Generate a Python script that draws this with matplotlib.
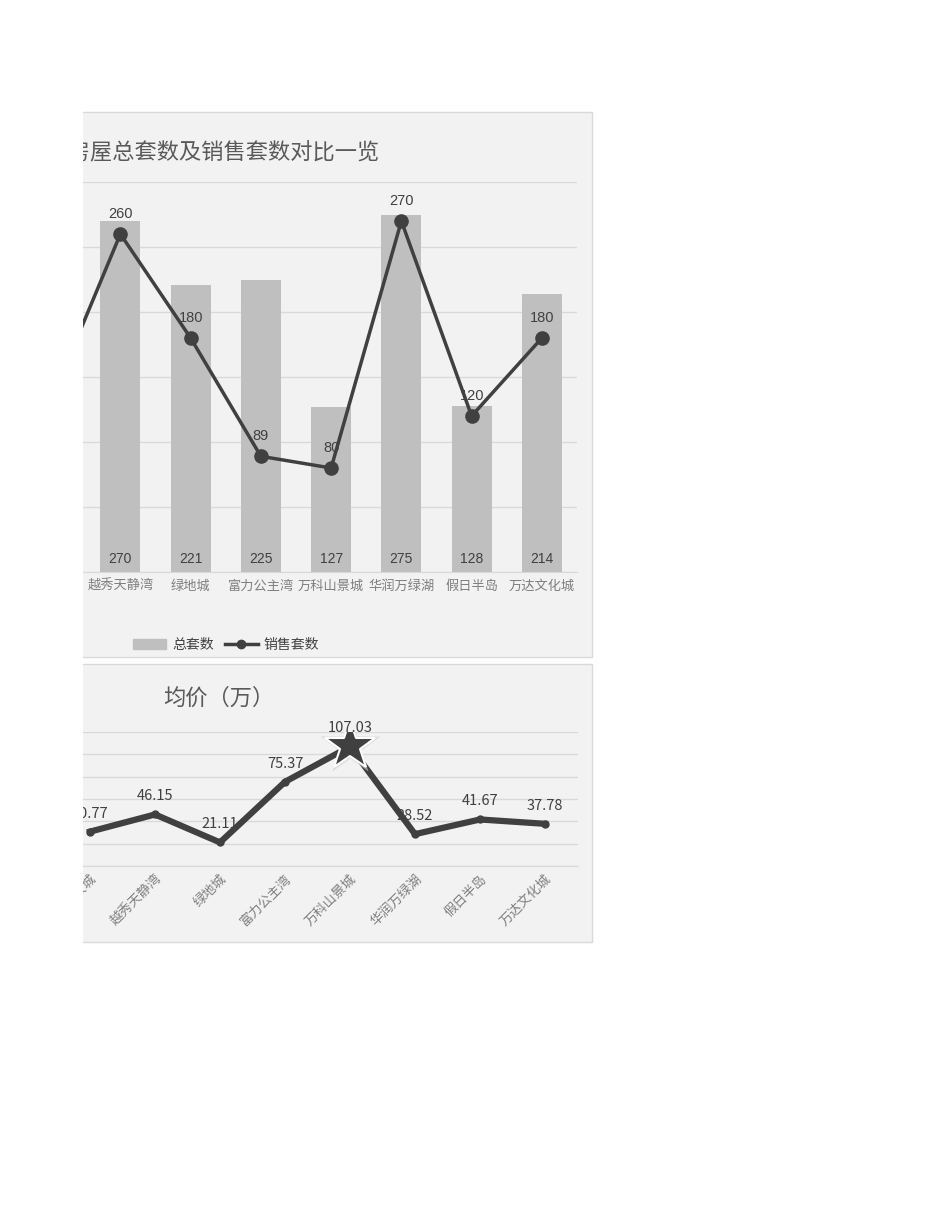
import matplotlib.pyplot as plt
from matplotlib.patches import Rectangle, Patch
from matplotlib.lines import Line2D

plt.rcParams['font.family'] = ['Noto Sans CJK SC', 'DejaVu Sans']

# data (first project is cut off on the left)
projects = ['恒大城', '越秀天静湾', '绿地城', '富力公主湾', '万科山景城', '华润万绿湖', '假日半岛', '万达文化城']
total_units = [250, 270, 221, 225, 127, 275, 128, 214]
sold_units = [130, 260, 180, 89, 80, 270, 120, 180]
avg_price = [30.77, 46.15, 21.11, 75.37, 107.03, 28.52, 41.67, 37.78]

W, H = 950, 1230
bar_col = '#bfbfbf'
line_col = '#404040'
grid_col = '#d9d9d9'
lab_col = '#7f7f7f'


def box(x0, y0, x1, y1):
    # pixel box (top-left origin) -> figure fractions
    return [x0 / W, 1 - y1 / H, (x1 - x0) / W, (y1 - y0) / H]


fig = plt.figure(figsize=(9.5, 12.3), dpi=100)

# panel backgrounds
for y0, y1 in [(112, 657), (664, 942)]:
    fig.patches.append(Rectangle((60 / W, 1 - y1 / H), (592 - 60) / W, (y1 - y0) / H,
                                 transform=fig.transFigure, facecolor='#f2f2f2',
                                 edgecolor=grid_col, lw=1, zorder=-5))

# ---- top chart: total vs sold
ax = fig.add_axes(box(15, 182, 577, 572))
ax.set_facecolor('none')
x = range(len(projects))
ax.bar(x, total_units, width=0.57, color=bar_col, zorder=2)
ax.plot(x, sold_units, color=line_col, lw=2.5, marker='o', ms=9.5, zorder=3)
for i in x:
    ax.annotate(str(total_units[i]), (i, 0), xytext=(0, 9.5), textcoords='offset points',
                ha='center', va='center', fontsize=10, color=line_col,
                family=['Liberation Sans', 'DejaVu Sans'])
    ax.annotate(str(sold_units[i]), (i, sold_units[i]), xytext=(0, 14.5),
                textcoords='offset points', ha='center', va='center', fontsize=10.5,
                color=line_col, family=['Liberation Sans', 'DejaVu Sans'], zorder=4)
ax.set_xlim(-0.5, len(projects) - 0.5)
ax.set_ylim(0, 300)
ax.set_yticks(range(0, 301, 50))
ax.yaxis.grid(True, color=grid_col, lw=1, zorder=0)
ax.set_axisbelow(True)
ax.tick_params(left=False, labelleft=False, bottom=False, pad=2)
ax.set_xticks(list(x))
ax.set_xticklabels(projects, fontsize=9.5, color=lab_col)
for s in ['left', 'right', 'top']:
    ax.spines[s].set_visible(False)
ax.spines['bottom'].set_color(grid_col)

fig.text(380 / W, 1 - 152 / H, '各楼盘房屋总套数及销售套数对比一览', ha='right', va='center',
         fontsize=16, color='#595959')

handles = [Patch(color=bar_col), Line2D([], [], color=line_col, lw=2.5, marker='o', ms=6)]
fig.legend(handles, ['总套数', '销售套数'], loc='center', ncol=2, frameon=False,
           bbox_to_anchor=(226 / W, 1 - 645 / H), fontsize=10, labelcolor='#404040',
           handlelength=2.4, handletextpad=0.4, columnspacing=0.8)

# ---- bottom chart: average price
ax2 = fig.add_axes(box(57.5, 732, 577.5, 866))
ax2.set_facecolor('none')
ax2.plot(x, avg_price, color=line_col, lw=4.5, solid_joinstyle='round',
         marker='o', ms=5, zorder=3)
top = avg_price.index(max(avg_price))
ax2.plot([top], [avg_price[top]], marker='*', ms=45, color='#cfcfcf', alpha=0.6,
         mec='none', zorder=4)
ax2.plot([top], [avg_price[top]], marker='*', ms=38, color=line_col, mec='white',
         mew=1.5, zorder=5)
for i in x:
    ax2.annotate(f'{avg_price[i]:.2f}', (i, avg_price[i]), xytext=(0, 13),
                 textcoords='offset points', ha='center', va='center', fontsize=10.5,
                 color=line_col, zorder=6 if i == top else 2)
ax2.set_xlim(-0.5, len(projects) - 0.5)
ax2.set_ylim(0, 120)
ax2.set_yticks(range(0, 121, 20))
ax2.yaxis.grid(True, color=grid_col, lw=1, zorder=0)
ax2.set_axisbelow(True)
ax2.tick_params(left=False, labelleft=False, bottom=False, pad=1)
ax2.set_xticks(list(x))
ax2.set_xticklabels(projects, fontsize=9.5, color=lab_col, rotation=45, ha='right',
                    rotation_mode='anchor')
for s in ['left', 'right', 'top']:
    ax2.spines[s].set_visible(False)
ax2.spines['bottom'].set_color(grid_col)

ax2.text(219 / W, 1 - 698 / H, '均价（万）', transform=fig.transFigure, ha='center',
         va='center', fontsize=16, color='#595959')

# the original picture is cut off at the left
fig.patches.append(Rectangle((0, 0), 83 / W, 1, transform=fig.transFigure,
                             facecolor='white', edgecolor='none', zorder=20))

fig.savefig('out.png', dpi=100, facecolor='white')
